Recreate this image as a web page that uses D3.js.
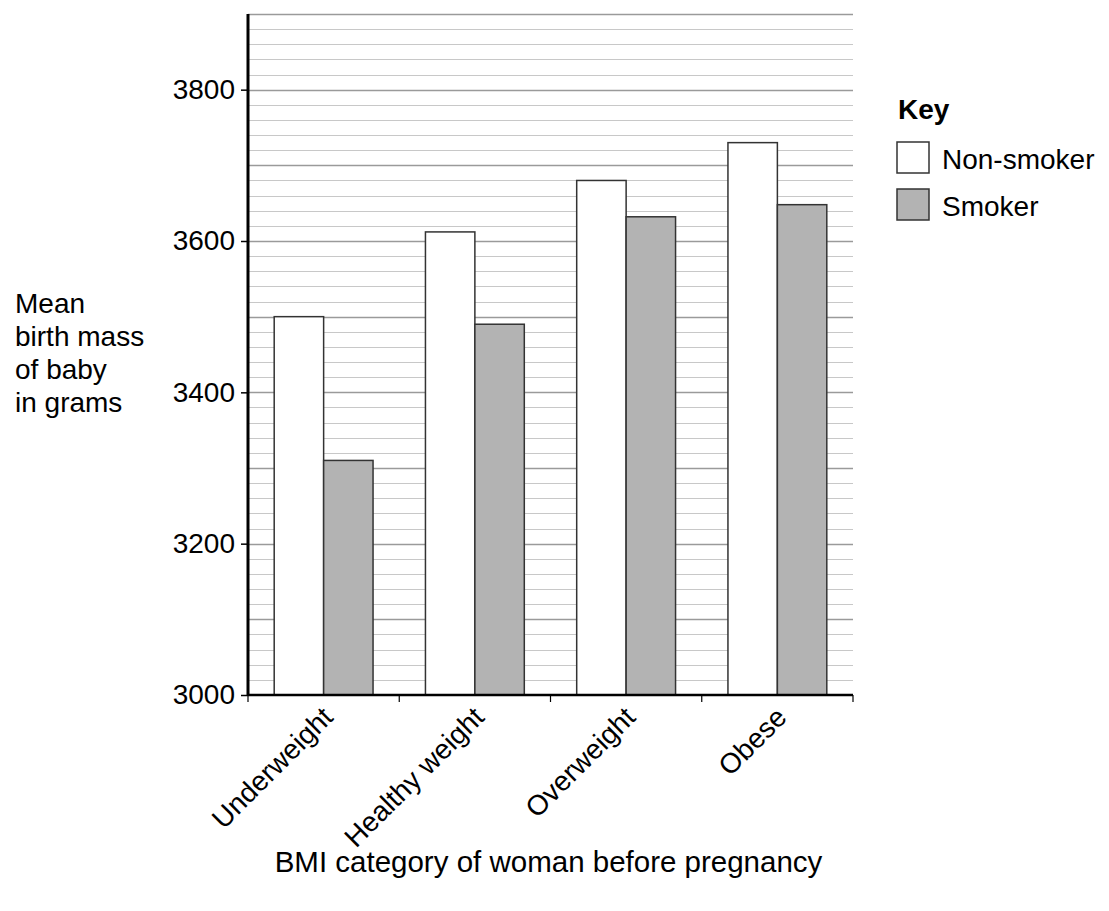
<!DOCTYPE html>
<html>
<head>
<meta charset="utf-8">
<script src="https://cdn.jsdelivr.net/npm/d3@7"></script>
<style>
  body { margin: 0; background: #fff; }
  svg { font-family: "Liberation Sans", Arial, sans-serif; }
</style>
</head>
<body>
<svg id="chart"></svg>
<script>
const categories = ["Underweight", "Healthy weight", "Overweight", "Obese"];
const series = ["Non-smoker", "Smoker"];
const nonSmoker = [3500, 3612, 3680, 3730];
const smoker = [3310, 3490, 3632, 3648];
const yTicks = [3000, 3200, 3400, 3600, 3800];
const yTitle = ["Mean", "birth mass", "of baby", "in grams"];

const width = 1109;
const height = 911;
const margin = {top: 14, right: 256, bottom: 216, left: 248};
const fontSize = "28px";

const svg = d3.select("#chart").attr("width", width).attr("height", height);

const x0 = d3
  .scaleBand()
  .domain(categories)
  .range([margin.left, width - margin.right])
  .paddingInner(0)
  .paddingOuter(0);

const x1 = d3
  .scaleBand()
  .domain(series)
  .range([0, x0.bandwidth()])
  .paddingInner(0)
  .paddingOuter(0.53);

const y = d3
  .scaleLinear()
  .domain([3000, 3900])
  .range([height - margin.bottom, margin.top]);

const fillColor = {"Non-smoker": "#ffffff", Smoker: "#b3b3b3"};

// gridlines every 20, darker every 100
const gridVals = d3.range(3020, 3901, 20);
svg
  .selectAll(".grid")
  .data(gridVals)
  .enter()
  .append("line")
  .attr("x1", margin.left)
  .attr("x2", width - margin.right)
  .attr("y1", (d) => Math.round(y(d)) + 0.5)
  .attr("y2", (d) => Math.round(y(d)) + 0.5)
  .attr("stroke", (d) => (d % 100 === 0 ? "#9a9a9a" : "#c8c8c8"))
  .attr("stroke-width", (d) => (d % 100 === 0 ? 1.5 : 1));

// bars
const rows = categories.map((c, i) => ({
  cat: c,
  values: [
    {series: "Non-smoker", value: nonSmoker[i]},
    {series: "Smoker", value: smoker[i]},
  ],
}));

svg
  .selectAll(".group")
  .data(rows)
  .enter()
  .append("g")
  .attr("transform", (d) => `translate(${x0(d.cat)},0)`)
  .selectAll("rect")
  .data((d) => d.values)
  .enter()
  .append("rect")
  .attr("x", (d) => x1(d.series))
  .attr("y", (d) => y(d.value))
  .attr("width", x1.bandwidth())
  .attr("height", (d) => y(3000) - y(d.value))
  .attr("fill", (d) => fillColor[d.series])
  .attr("stroke", "#333")
  .attr("stroke-width", 1.5);

// y axis
const yAxis = svg
  .append("g")
  .attr("transform", `translate(${margin.left},0)`)
  .call(d3.axisLeft(y).tickValues(yTicks).tickSize(7).tickPadding(6).tickFormat(d3.format("d")));
yAxis.select(".domain").remove();
yAxis.selectAll(".tick line").attr("stroke", "#000").attr("stroke-width", 1.5);
yAxis
  .selectAll(".tick text")
  .attr("font-size", fontSize)
  .attr("fill", "#000")
  .attr("font-family", "Liberation Sans, Arial, sans-serif");

svg
  .append("line")
  .attr("x1", margin.left)
  .attr("x2", margin.left)
  .attr("y1", margin.top)
  .attr("y2", y(3000) + 1)
  .attr("stroke", "#000")
  .attr("stroke-width", 3);

// x axis
svg
  .append("line")
  .attr("x1", margin.left)
  .attr("x2", width - margin.right)
  .attr("y1", y(3000))
  .attr("y2", y(3000))
  .attr("stroke", "#000")
  .attr("stroke-width", 2.5);

const boundaries = categories
  .map((c) => x0(c))
  .concat([x0(categories[categories.length - 1]) + x0.bandwidth()]);
svg
  .selectAll(".xtick")
  .data(boundaries)
  .enter()
  .append("line")
  .attr("x1", (d) => d)
  .attr("x2", (d) => d)
  .attr("y1", y(3000))
  .attr("y2", y(3000) + 7)
  .attr("stroke", "#000")
  .attr("stroke-width", 1.2);

svg
  .selectAll(".xlabel")
  .data(categories)
  .enter()
  .append("text")
  .attr("transform", (d) => {
    const cx = x0(d) + x0.bandwidth() / 2 + 11;
    const cy = y(3000) + 24;
    return `translate(${cx},${cy}) rotate(-45)`;
  })
  .attr("text-anchor", "end")
  .attr("font-size", fontSize)
  .attr("fill", "#000")
  .text((d) => d);

// axis titles
svg
  .append("text")
  .attr("x", (margin.left + width - margin.right) / 2 - 2)
  .attr("y", 872)
  .attr("text-anchor", "middle")
  .attr("font-size", "29.5px")
  .attr("fill", "#000")
  .text("BMI category of woman before pregnancy");

svg
  .append("text")
  .attr("x", 15)
  .attr("y", 313)
  .attr("font-size", fontSize)
  .attr("fill", "#000")
  .selectAll("tspan")
  .data(yTitle)
  .enter()
  .append("tspan")
  .attr("x", 15)
  .attr("dy", (d, i) => (i === 0 ? 0 : 33))
  .text((d) => d);

// legend
const legendX = 897;
svg
  .append("text")
  .attr("x", legendX + 1)
  .attr("y", 119)
  .attr("font-size", fontSize)
  .attr("font-weight", "bold")
  .attr("fill", "#000")
  .text("Key");

series.forEach((s, i) => {
  const top = 142 + i * 47;
  svg
    .append("rect")
    .attr("x", legendX)
    .attr("y", top)
    .attr("width", 32)
    .attr("height", 31)
    .attr("fill", fillColor[s])
    .attr("stroke", "#333")
    .attr("stroke-width", 1.5);
  svg
    .append("text")
    .attr("x", legendX + 45)
    .attr("y", top + 27)
    .attr("font-size", fontSize)
    .attr("fill", "#000")
    .text(s);
});
</script>
</body>
</html>
